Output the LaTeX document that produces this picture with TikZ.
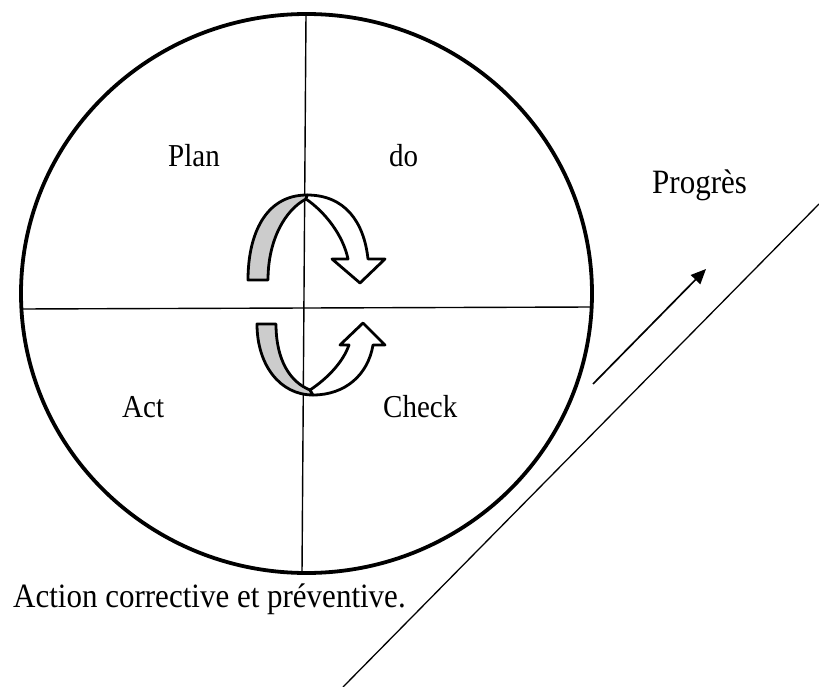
\documentclass[tikz,border=0pt]{standalone}
\usepackage{fontspec}
\usepackage{graphicx}
\setmainfont{Liberation Serif}
\usetikzlibrary{arrows.meta}
\newcommand{\stretchtxt}[1]{\scalebox{1}[1.1]{#1}}
\begin{document}
\begin{tikzpicture}[x=1pt,y=-1pt,
  lbl/.style={anchor=base west,inner sep=0pt,font=\fontsize{29}{34}\selectfont},
  biglbl/.style={anchor=base west,inner sep=0pt,font=\fontsize{31}{36}\selectfont},
  ribbon/.style={line width=2.8pt,line join=round},
  backside/.style={ribbon,fill=black!20},
  frontside/.style={ribbon,fill=white},
  divider/.style={line width=1.4pt},
  rim/.style={line width=3.8pt}]
\useasboundingbox (0,0) rectangle (819,687);
% circle
\draw[rim] (306.5,293.5) ellipse [x radius=285.5pt, y radius=279.5pt];
% dividers
\coordinate (vt) at (306,14);
\coordinate (vb) at (302,573);
\coordinate (hl) at (21,309);
\coordinate (hr) at (592,307);
\draw[divider] (vt) -- (vb);
\draw[divider] (hl) -- (hr);
% labels
\node[lbl] (plan) at (168,167) {\stretchtxt{Plan}};
\node[lbl] (do) at (389,167) {\stretchtxt{do}};
\node[lbl] (act) at (122,417) {\stretchtxt{Act}};
\node[lbl] (check) at (383,417) {\stretchtxt{Check}};
\node[biglbl] (prog) at (652,194) {\stretchtxt{Progrès}};
\node[biglbl] (acp) at (13,607) {\stretchtxt{Action corrective et préventive.}};
% upper ribbon
\draw[backside] (248,280) -- (268,280) .. controls (268,240) and (285,210) .. (306,199)
  -- (307,195) .. controls (265,195) and (248,235) .. (248,280) -- cycle;
\draw[frontside] (306,199) .. controls (325,212) and (343,235) .. (348,259)
  -- (332,259) -- (360,283) -- (385,259) -- (368,259)
  .. controls (364,222) and (345,195) .. (307,195) -- cycle;
% lower ribbon
\draw[backside] (257,324) -- (276,324) .. controls (276,360) and (290,382) .. (310,390)
  -- (313,395) .. controls (280,395) and (257,365) .. (257,324) -- cycle;
\draw[frontside] (310,390) .. controls (328,378) and (343,362) .. (349,345)
  -- (340,345) -- (363,323) -- (385,345) -- (373,345)
  .. controls (368,375) and (345,395) .. (313,395) -- cycle;
% progress arrow and line
\coordinate (pa) at (593,384);
\coordinate (pb) at (706,269);
\draw[line width=1.7pt,-{Triangle[length=15pt,width=13pt]}] (pa) -- (pb);
\coordinate (da) at (819,204);
\coordinate (db) at (343,687);
\draw[line width=1.3pt] (da) -- (db);
\end{tikzpicture}
\end{document}
